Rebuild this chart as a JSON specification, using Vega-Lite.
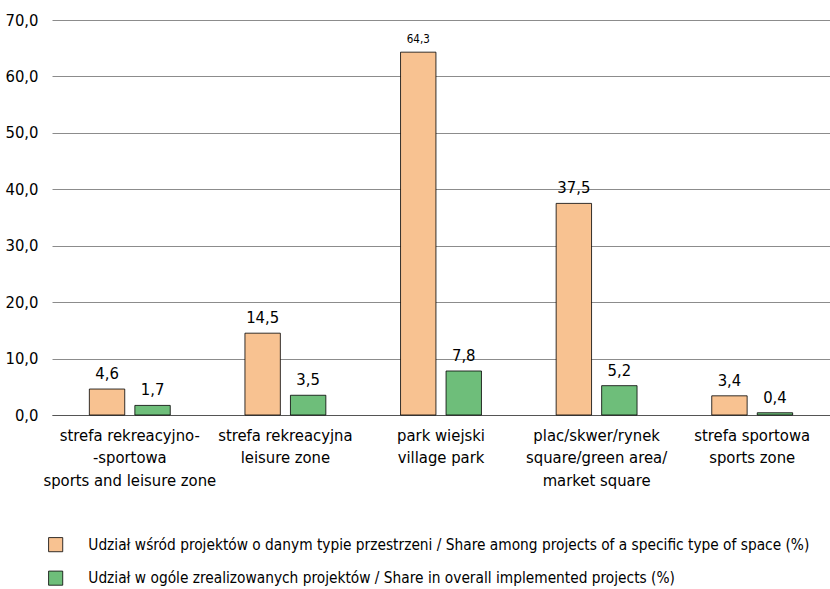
{
  "$schema": "https://vega.github.io/schema/vega-lite/v6.json",
  "autosize": "none",
  "width": 778,
  "height": 395,
  "padding": {"left": 52, "top": 20, "right": 0, "bottom": 174},
  "background": "white",
  "config": {
    "locale": {"number": {"decimal": ",", "thousands": " ", "grouping": [3], "currency": ["", " zł"]}},
    "font": "DejaVu Sans Condensed",
    "view": {"stroke": null}
  },
  "data": {
    "values": [
      {"cat": "strefa rekreacyjno-|-sportowa|sports and leisure zone", "series": "A", "value": 4.6},
      {"cat": "strefa rekreacyjno-|-sportowa|sports and leisure zone", "series": "B", "value": 1.7},
      {"cat": "strefa rekreacyjna|leisure zone", "series": "A", "value": 14.5},
      {"cat": "strefa rekreacyjna|leisure zone", "series": "B", "value": 3.5},
      {"cat": "park wiejski|village park", "series": "A", "value": 64.3},
      {"cat": "park wiejski|village park", "series": "B", "value": 7.8},
      {"cat": "plac/skwer/rynek|square/green area/|market square", "series": "A", "value": 37.5},
      {"cat": "plac/skwer/rynek|square/green area/|market square", "series": "B", "value": 5.2},
      {"cat": "strefa sportowa|sports zone", "series": "A", "value": 3.4},
      {"cat": "strefa sportowa|sports zone", "series": "B", "value": 0.4}
    ]
  },
  "encoding": {
    "x": {
      "field": "cat", "type": "nominal", "sort": null, "title": null,
      "scale": {"paddingInner": 0.48, "paddingOuter": 0.24},
      "axis": {
        "labelAngle": 0, "labelExpr": "split(datum.label, '|')", "labelFontSize": 16.5,
        "labelLineHeight": 22.5, "labelColor": "black", "labelPadding": 12, "ticks": false,
        "domainColor": "#555", "domainWidth": 1, "labelBaseline": "top"
      }
    },
    "xOffset": {"field": "series", "type": "nominal", "scale": {"paddingInner": 0.222, "paddingOuter": 0}},
    "y": {
      "field": "value", "type": "quantitative", "title": null,
      "scale": {"domain": [0, 70], "nice": false},
      "axis": {
        "values": [0, 10, 20, 30, 40, 50, 60, 70], "format": ".1f", "domain": false, "ticks": false,
        "labelPadding": 14, "labelFontSize": 16.5, "labelColor": "black",
        "gridColor": "#8c8c8c", "gridWidth": 1
      }
    }
  },
  "layer": [
    {
      "mark": {"type": "bar", "stroke": "black", "strokeWidth": 0.8},
      "encoding": {
        "color": {
          "field": "series", "type": "nominal",
          "scale": {"domain": ["A", "B"], "range": ["#F8C291", "#6EBE7A"]},
          "legend": {
            "orient": "none", "legendX": -4, "legendY": 517, "direction": "vertical", "title": null,
            "symbolType": "square", "symbolSize": 200, "symbolStrokeColor": "black", "symbolStrokeWidth": 0.8,
            "labelFontSize": 15.3, "labelColor": "black", "labelOffset": 25, "rowPadding": 14.5, "labelLimit": 900,
            "labelExpr": "datum.value == 'A' ? 'Udział wśród projektów o danym typie przestrzeni / Share among projects of a specific type of space  (%)' : 'Udział w ogóle zrealizowanych projektów / Share in overall implemented projects (%)'"
          }
        }
      }
    },
    {
      "mark": {"type": "text", "baseline": "bottom", "dy": -7, "color": "black"},
      "encoding": {
        "text": {"field": "value", "type": "quantitative", "format": ".1f"},
        "size": {"condition": {"test": "datum.value > 60", "value": 11.5}, "value": 16.5}
      }
    }
  ]
}
